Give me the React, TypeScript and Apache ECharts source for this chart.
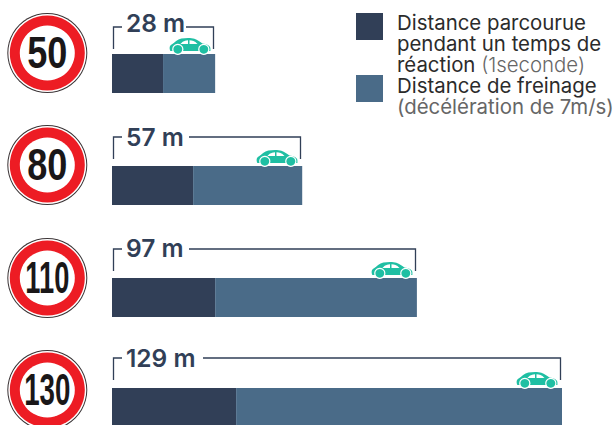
import React, { useEffect, useRef } from "react";
import * as echarts from "echarts";

const speeds = ["50", "80", "110", "130"];
const distanceLabels = ["28 m", "57 m", "97 m", "129 m"];
const reactionDistance = [14.6, 23.2, 29.5, 35.5];
const brakingDistance = [14.9, 31.2, 57.7, 93.2];
const legendReaction = ["Distance parcourue", "pendant un temps de"];
const legendReactionLast = ["réaction", " (1seconde)"];
const legendBraking = "Distance de freinage";
const legendBrakingNote = "(décélération de 7m/s)";

const DARK = "#313f57";
const BLUE = "#4a6b88";
const TEAL = "#1fbfa3";
const SANS = "Inter, Roboto, sans-serif";
const AXIS_MAX = 143;
const barTops = [54, 166, 278, 388];
const signCentres = [53, 165, 278, 390];
const labelGapEnd = [186, 189, 189, 203];
const bracketTops = [27, 137, 249, 358];
const bracketBottoms = [49, 159, 271, 380];
const labelCentres = [23, 137, 248, 358];
const signWidths = [0.82, 0.82, 0.62, 0.63];

const carBody =
  "M0.5 12 C-0.3 9 0.5 7 3 6 C5 4.5 8 1.5 12 0.5 C17 -0.2 22 -0.2 25 0.8 C28 2 31 4 33 5.6 C37 6.2 41 7.5 41 10.5 L41 13 L1 13 Z";
const carWindowRear = "M0 3.7 C1.5 1.7 3 0.7 7.5 0 L7.5 3.7 Z";
const carWindowFront = "M0 0 C3 0 5 0.7 8 3.7 L0 3.7 Z";

function bracketAndCar(row: number) {
  return (params: any, api: any) => {
    const total = api.value(0);
    const p = api.coord([total, 0]);
    const right = Math.round(p[0]) - 1.5;
    const top = barTops[row];
    const lineY = bracketTops[row];
    const bottom = bracketBottoms[row];
    const stroke = { stroke: DARK, lineWidth: 1.3, fill: "none" };
    const carLeft = right - 44;
    const carTop = top - 16;
    const wheel = (cx: number) => [
      { type: "circle", shape: { cx, cy: top - 4.7, r: 5.6 }, style: { fill: "#fff" } },
      { type: "circle", shape: { cx, cy: top - 4.7, r: 4.4 }, style: { fill: TEAL } },
    ];
    return {
      type: "group",
      children: [
        {
          type: "polyline",
          shape: { points: [[113.5, bottom], [113.5, lineY], [122, lineY]] },
          style: stroke,
        },
        {
          type: "polyline",
          shape: { points: [[labelGapEnd[row], lineY], [right, lineY], [right, bottom]] },
          style: stroke,
        },
        {
          type: "text",
          x: 126,
          y: labelCentres[row],
          style: {
            text: distanceLabels[row],
            fill: DARK,
            font: `600 24.5px ${SANS}`,
            textVerticalAlign: "middle",
          },
        },
        {
          type: "path",
          shape: { pathData: carBody, x: carLeft, y: carTop, width: 41, height: 13 },
          style: { fill: TEAL },
        },
        {
          type: "path",
          shape: { pathData: carWindowRear, x: carLeft + 11, y: carTop + 2.3, width: 7.5, height: 3.7 },
          style: { fill: "#fff" },
        },
        {
          type: "path",
          shape: { pathData: carWindowFront, x: carLeft + 20, y: carTop + 2.3, width: 8, height: 3.7 },
          style: { fill: "#fff" },
        },
        ...wheel(carLeft + 8.3),
        ...wheel(carLeft + 34.3),
      ],
    };
  };
}

function signGraphic() {
  const out: any[] = [];
  speeds.forEach((speed, i) => {
    const cx = 47.3;
    const cy = signCentres[i];
    out.push(
      { type: "circle", shape: { cx, cy, r: 40 }, style: { fill: "#3a3335" } },
      { type: "circle", shape: { cx, cy, r: 39 }, style: { fill: "#fff" } },
      { type: "circle", shape: { cx, cy, r: 37.5 }, style: { fill: "#ed1c24" } },
      { type: "circle", shape: { cx, cy, r: 27.5 }, style: { fill: "#fff" } },
      {
        type: "text",
        x: cx,
        y: cy,
        scaleX: signWidths[i],
        style: {
          text: speed,
          fill: "#1a1718",
          font: `bold 44px "Liberation Sans", sans-serif`,
          textAlign: "center",
          textVerticalAlign: "middle",
        },
      }
    );
  });
  return out;
}

function legendGraphic() {
  const font = `400 20.4px ${SANS}`;
  const light = `300 20.4px ${SANS}`;
  const a = { fill: "#2b2b2b", font, lineHeight: 21 };
  const b = { fill: "#666", font: light, lineHeight: 21 };
  return [
    { type: "rect", shape: { x: 356, y: 13, width: 27, height: 27 }, style: { fill: DARK } },
    { type: "rect", shape: { x: 356, y: 75, width: 27, height: 27 }, style: { fill: BLUE } },
    {
      type: "text",
      x: 397,
      y: 12,
      style: {
        text: `{a|${legendReaction[0]}}\n{a|${legendReaction[1]}}\n{a|${legendReactionLast[0]}}{b|${legendReactionLast[1]}}`,
        rich: { a, b },
      },
    },
    {
      type: "text",
      x: 397,
      y: 75,
      style: {
        text: `{a|${legendBraking}}\n{b|${legendBrakingNote}}`,
        rich: { a, b: { fill: "#666", font, lineHeight: 20 } },
      },
    },
  ];
}

export default function App() {
  const ref = useRef<HTMLDivElement>(null);
  useEffect(() => {
    const chart = echarts.init(ref.current!, null, { renderer: "svg" });
    const grid: any[] = [];
    const xAxis: any[] = [];
    const yAxis: any[] = [];
    const series: any[] = [];
    speeds.forEach((speed, i) => {
      grid.push({ left: 112, width: 500, top: barTops[i], height: 39 });
      xAxis.push({ gridIndex: i, type: "value", min: 0, max: AXIS_MAX, show: false });
      yAxis.push({ gridIndex: i, type: "category", data: [speed], show: false });
      const common = {
        type: "bar",
        stack: `row${i}`,
        xAxisIndex: i,
        yAxisIndex: i,
        barWidth: "100%",
      };
      series.push(
        { ...common, name: "Distance parcourue", data: [reactionDistance[i]], itemStyle: { color: DARK } },
        { ...common, name: "Distance de freinage", data: [brakingDistance[i]], itemStyle: { color: BLUE } },
        {
          type: "custom",
          xAxisIndex: i,
          yAxisIndex: i,
          renderItem: bracketAndCar(i),
          clip: false,
          silent: true,
          z: 5,
          data: [[reactionDistance[i] + brakingDistance[i], 0]],
        }
      );
    });
    chart.setOption({
      animation: false,
      grid,
      xAxis,
      yAxis,
      series,
      graphic: [...signGraphic(), ...legendGraphic()],
    });
    return () => chart.dispose();
  }, []);
  return <div ref={ref} style={{ position: "fixed", left: 0, top: 0, width: 613, height: 425, background: "#fff" }} />;
}
